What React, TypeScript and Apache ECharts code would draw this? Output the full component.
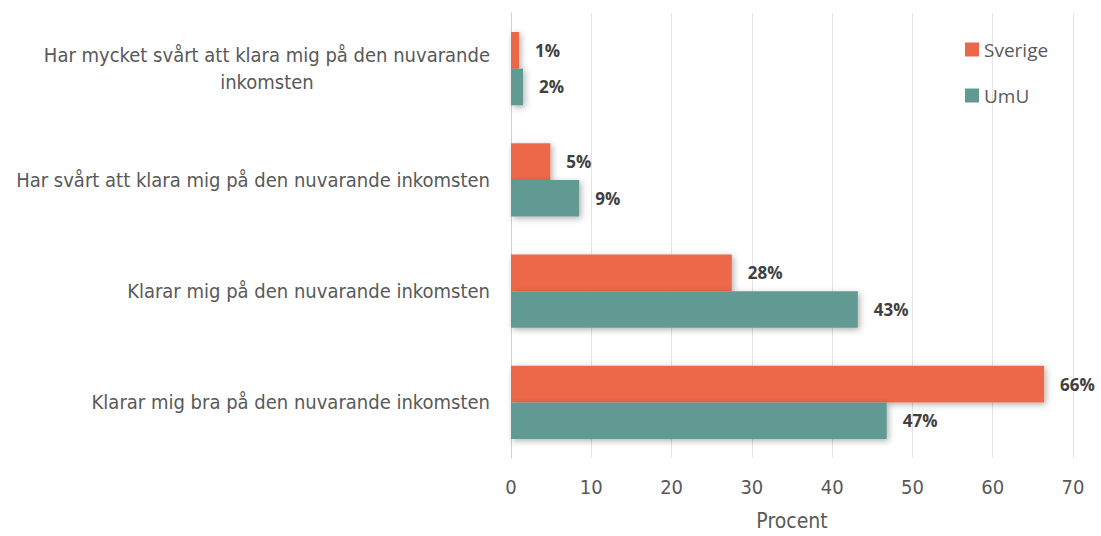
import React, { useEffect, useRef } from "react";
import * as echarts from "echarts";

const categories = [
  "Har mycket svårt att klara mig på den nuvarande inkomsten",
  "Har svårt att klara mig på den nuvarande inkomsten",
  "Klarar mig på den nuvarande inkomsten",
  "Klarar mig bra på den nuvarande inkomsten",
];
const sverige = [1.0, 4.9, 27.5, 66.4];
const umu = [1.5, 8.5, 43.2, 46.8];
const sverigeLabels = ["1%", "5%", "28%", "66%"];
const umuLabels = ["2%", "9%", "43%", "47%"];
const xTicks = [0, 10, 20, 30, 40, 50, 60, 70];

const narrow = "'Liberation Sans Narrow', 'Arial Narrow', 'DejaVu Sans Condensed', sans-serif";

export default function App() {
  const ref = useRef<HTMLDivElement>(null);
  useEffect(() => {
    if (!ref.current) return;
    const chart = echarts.init(ref.current, null, { renderer: "svg" });
    const labelStyle = {
      show: true,
      position: "right" as const,
      distance: 16,
      fontFamily: "'Open Sans', sans-serif",
      fontWeight: "bold" as const,
      fontSize: 17,
      color: "#404040",
    };
    const shadow = {
      shadowBlur: 6,
      shadowColor: "rgba(0,0,0,0.3)",
      shadowOffsetX: 2,
      shadowOffsetY: 2,
    };
    chart.setOption({
      animation: false,
      grid: { left: 511, right: 28, top: 13, bottom: 75, containLabel: false },
      legend: {
        orient: "vertical",
        left: 960,
        top: 35,
        itemWidth: 14,
        itemHeight: 14,
        itemGap: 27,
        icon: "rect",
        textStyle: { fontFamily: "'Open Sans', sans-serif", fontSize: 19, color: "#595959" },
        data: ["Sverige", "UmU"],
      },
      xAxis: {
        type: "value",
        min: xTicks[0],
        max: xTicks[xTicks.length - 1],
        interval: 10,
        name: "Procent",
        nameLocation: "middle",
        nameGap: 52,
        nameTextStyle: { fontFamily: narrow, fontSize: 21, color: "#595959" },
        axisLine: { show: false },
        axisTick: { show: false },
        axisLabel: { margin: 19, fontFamily: narrow, fontSize: 20, color: "#595959" },
        splitLine: { show: true, lineStyle: { color: "#e3e3e3", width: 1 } },
      },
      yAxis: {
        type: "category",
        inverse: true,
        data: categories,
        axisLine: { show: true, lineStyle: { color: "#d0d0d0", width: 1 } },
        axisTick: { show: false },
        axisLabel: {
          margin: 21,
          fontFamily: narrow,
          fontSize: 20,
          color: "#595959",
          lineHeight: 27,
          formatter: (v: string) => {
            if (v === categories[0]) {
              return "{a|Har mycket svårt att klara mig på den nuvarande}\n{b|inkomsten}";
            }
            return v;
          },
          rich: {
            a: { fontFamily: narrow, fontSize: 20, color: "#595959", lineHeight: 27 },
            b: { fontFamily: narrow, fontSize: 20, color: "#595959", lineHeight: 27, align: "center" },
          },
        },
      },
      series: [
        {
          name: "Sverige",
          type: "bar",
          data: sverige,
          barGap: "0%",
          barCategoryGap: "34%",
          itemStyle: { color: "#EC674A", ...shadow },
          label: { ...labelStyle, formatter: (p: any) => sverigeLabels[p.dataIndex] },
        },
        {
          name: "UmU",
          type: "bar",
          data: umu,
          itemStyle: { color: "#609A92", ...shadow },
          label: { ...labelStyle, formatter: (p: any) => umuLabels[p.dataIndex] },
        },
      ],
    });
    return () => chart.dispose();
  }, []);
  return <div ref={ref} style={{ width: 1101, height: 536, position: "absolute", left: 0, top: 0 }} />;
}
